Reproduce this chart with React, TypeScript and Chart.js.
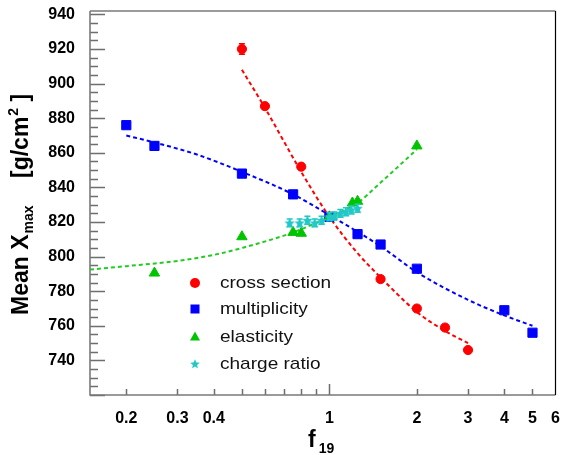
import React, { useEffect, useRef } from 'react';
import { Chart, registerables } from 'chart.js';

Chart.register(...registerables);

const FONT = "'Liberation Sans', Arial, Helvetica, sans-serif";

// ---- axis setup ----
const X_MIN = 0.15;
const X_MAX = 6;
const Y_MIN = 720;
const Y_MAX = 942;
const X_TICKS = [0.2, 0.3, 0.4, 0.5, 0.6, 0.7, 0.8, 0.9, 1, 2, 3, 4, 5, 6];
const X_TICK_LABELS = ['0.2', '0.3', '0.4', '', '', '', '', '', '1', '2', '3', '4', '5', '6'];
const Y_TICKS = [740, 760, 780, 800, 820, 840, 860, 880, 900, 920, 940];
const Y_MINOR_STEP = 5;

// ---- data: cross section ----
const CS_X = [0.5, 0.6, 0.8, 1.0, 1.5, 2.0, 2.5, 3.0];
const CS_Y = [920, 887, 852, 823, 787, 770, 759, 746];
const CS_ERR = [3, 0, 0, 0, 0, 0, 0, 0];
const CS_FIT_X = [0.5, 0.6, 0.8, 1.0, 1.25, 1.5, 2.0, 2.5, 3.0];
const CS_FIT_Y = [908, 886, 849, 823, 802, 788, 768, 757, 750];

// ---- data: multiplicity ----
const MULT_X = [0.2, 0.25, 0.5, 0.75, 1.0, 1.25, 1.5, 2.0, 4.0, 5.0];
const MULT_Y = [876, 864, 848, 836, 823, 813, 807, 793, 769, 756];
const MULT_FIT_X = [0.2, 0.25, 0.35, 0.5, 0.75, 1.0, 1.5, 2.0, 3.0, 4.0, 5.0];
const MULT_FIT_Y = [870, 866, 859, 849, 836, 824, 806, 791, 775, 766, 760];

// ---- data: elasticity ----
const ELAS_X = [0.25, 0.5, 0.75, 0.8, 1.0, 1.2, 1.25, 2.0];
const ELAS_Y = [790.5, 811.5, 814, 813.5, 823, 831, 832, 864];
const ELAS_FIT_X = [0.15, 0.2, 0.3, 0.4, 0.5, 0.75, 1.0, 1.25, 1.45, 2.0];
const ELAS_FIT_Y = [792.5, 794.5, 797.5, 801, 805, 814, 823, 831, 840.5, 862];

// ---- data: charge ratio ----
const CHG_X = [0.73, 0.79, 0.84, 0.89, 0.94, 1.0, 1.04, 1.09, 1.14, 1.19, 1.25];
const CHG_Y = [819.5, 819.5, 821, 819.5, 821, 823, 823.5, 825, 826, 827, 828];
const CHG_ERR = [2.3, 2.3, 2.3, 2.3, 2.3, 2.3, 2.3, 2.3, 2.3, 2.3, 2.3];

const LEGEND_LABELS = ['cross section', 'multiplicity', 'elasticity', 'charge ratio'];

const RED = '#ff0000';
const BLUE = '#0000ff';
const GREEN = '#00c400';
const GREEN_LINE = '#22cc22';
const CYAN = '#22c8c8';

const pts = (xs: number[], ys: number[]) => xs.map((x, i) => ({ x, y: ys[i] }));

function makeStar(color: string, size: number) {
  const c = document.createElement('canvas');
  c.width = size;
  c.height = size;
  const g = c.getContext('2d')!;
  const cx = size / 2, cy = size / 2 + 0.5, R = size / 2, r = R * 0.45;
  g.beginPath();
  for (let i = 0; i < 10; i++) {
    const a = -Math.PI / 2 + (i * Math.PI) / 5;
    const rr = i % 2 === 0 ? R : r;
    g.lineTo(cx + rr * Math.cos(a), cy + rr * Math.sin(a));
  }
  g.closePath();
  g.fillStyle = color;
  g.fill();
  return c;
}

const decorPlugin = {
  id: 'decor',
  afterDatasetsDraw(chart: any) {
    const ctx = chart.ctx;
    const ys = chart.scales.y;
    chart.data.datasets.forEach((ds: any, di: number) => {
      if (!ds.errY) return;
      const meta = chart.getDatasetMeta(di);
      ctx.save();
      ctx.strokeStyle = ds.errColor;
      ctx.lineWidth = 1.5;
      meta.data.forEach((el: any, i: number) => {
        const e = ds.errY[i];
        if (!e) return;
        const v = ds.data[i].y;
        const t = ys.getPixelForValue(v + e);
        const b = ys.getPixelForValue(v - e);
        ctx.beginPath();
        ctx.moveTo(el.x, t);
        ctx.lineTo(el.x, b);
        ctx.moveTo(el.x - 3, t);
        ctx.lineTo(el.x + 3, t);
        ctx.moveTo(el.x - 3, b);
        ctx.lineTo(el.x + 3, b);
        ctx.stroke();
      });
      ctx.restore();
    });
  },
  afterDraw(chart: any) {
    const ctx = chart.ctx;
    const { left, right, top, bottom } = chart.chartArea;
    const xs = chart.scales.x;
    const ys = chart.scales.y;
    ctx.save();
    // ticks
    ctx.strokeStyle = '#6e6e6e';
    ctx.lineWidth = 1.5;
    ctx.beginPath();
    for (let v = Y_MIN; v <= Y_MAX; v += Y_MINOR_STEP) {
      const y = Math.round(ys.getPixelForValue(v)) + 0.5;
      const len = v % 20 === 0 ? 15 : 8;
      ctx.moveTo(left, y);
      ctx.lineTo(left + len, y);
    }
    X_TICKS.forEach((v) => {
      if (v >= X_MAX) return;
      const x = Math.round(xs.getPixelForValue(v)) + 0.5;
      const len = v === 1 ? 11 : 6;
      ctx.moveTo(x, bottom);
      ctx.lineTo(x, bottom - len);
    });
    ctx.stroke();
    // frame
    ctx.lineWidth = 1.6;
    ctx.strokeStyle = '#7a7a7a';
    ctx.beginPath();
    ctx.moveTo(left, top);
    ctx.lineTo(right, top);
    ctx.moveTo(left, top);
    ctx.lineTo(left, bottom);
    ctx.lineTo(right, bottom);
    ctx.stroke();
    ctx.strokeStyle = '#000';
    ctx.lineWidth = 1.2;
    ctx.beginPath();
    ctx.moveTo(right, top);
    ctx.lineTo(right, bottom);
    ctx.stroke();

    // legend
    const lx = 195;
    const rows = [283, 309, 337, 364];
    const colors = [RED, BLUE, GREEN, CYAN];
    rows.forEach((ry, i) => {
      ctx.fillStyle = colors[i];
      ctx.beginPath();
      if (i === 0) {
        ctx.arc(lx, ry, 5, 0, Math.PI * 2);
        ctx.fill();
      } else if (i === 1) {
        ctx.fillRect(lx - 4.5, ry - 4.5, 9, 9);
      } else if (i === 2) {
        ctx.moveTo(lx, ry - 5.5);
        ctx.lineTo(lx + 5, ry + 3.5);
        ctx.lineTo(lx - 5, ry + 3.5);
        ctx.closePath();
        ctx.fill();
      } else {
        ctx.drawImage(STAR, lx - 5, ry - 5, 10, 10);
      }
      ctx.fillStyle = '#111';
      ctx.font = `17px ${FONT}`;
      ctx.textBaseline = 'middle';
      ctx.textAlign = 'left';
      ctx.save();
      ctx.translate(220, ry);
      ctx.scale(1.12, 1);
      ctx.fillText(LEGEND_LABELS[i], 0, 0);
      ctx.restore();
    });

    // x title
    ctx.fillStyle = '#000';
    ctx.textBaseline = 'alphabetic';
    ctx.textAlign = 'left';
    ctx.font = `bold 23px ${FONT}`;
    ctx.fillText('f', 308, 447);
    const fw = ctx.measureText('f').width;
    ctx.font = `bold 14px ${FONT}`;
    ctx.fillText('19', 308 + fw + 3, 453);

    // y title
    ctx.save();
    ctx.translate(28, 315);
    ctx.rotate(-Math.PI / 2);
    ctx.font = `bold 23px ${FONT}`;
    ctx.fillText('Mean X', 0, 0);
    const w1 = ctx.measureText('Mean X').width;
    ctx.font = `bold 14px ${FONT}`;
    ctx.fillText('max', w1 + 1, 5);
    ctx.font = `bold 23px ${FONT}`;
    const bx = 315 - 178;
    ctx.fillText('[g/cm', bx, 0);
    const w2 = ctx.measureText('[g/cm').width;
    ctx.font = `bold 14px ${FONT}`;
    ctx.fillText('2', bx + w2 + 1, -10);
    const w3 = ctx.measureText('2').width;
    ctx.font = `bold 23px ${FONT}`;
    ctx.fillText(' ]', bx + w2 + w3 + 1, 0);
    ctx.restore();

    ctx.restore();
  },
};

const STAR = makeStar(CYAN, 20);

export default function App() {
  const ref = useRef<HTMLCanvasElement>(null);
  useEffect(() => {
    const star = makeStar(CYAN, 11);
    const chart = new Chart(ref.current!, {
      type: 'scatter',
      data: {
        datasets: [
          {
            label: 'charge ratio',
            data: pts(CHG_X, CHG_Y),
            pointStyle: star as any,
            pointRadius: 5,
            backgroundColor: CYAN,
            borderColor: CYAN,
            errY: CHG_ERR,
            errColor: CYAN,
            order: 0,
          } as any,
          {
            label: 'elasticity',
            data: pts(ELAS_X, ELAS_Y),
            pointStyle: 'triangle',
            pointRadius: 6,
            backgroundColor: GREEN,
            borderColor: GREEN,
            order: 0,
          },
          {
            label: 'multiplicity',
            data: pts(MULT_X, MULT_Y),
            pointStyle: 'rect',
            pointRadius: 6.5,
            backgroundColor: BLUE,
            borderColor: BLUE,
            order: 0,
          },
          {
            label: 'cross section',
            data: pts(CS_X, CS_Y),
            pointStyle: 'circle',
            pointRadius: 4.6,
            backgroundColor: RED,
            borderColor: RED,
            errY: CS_ERR,
            errColor: RED,
            order: 0,
          } as any,
          {
            label: 'cs fit',
            data: pts(CS_FIT_X, CS_FIT_Y),
            showLine: true,
            pointRadius: 0,
            borderColor: RED,
            borderWidth: 2,
            borderDash: [4, 3],
            cubicInterpolationMode: 'monotone',
            order: 1,
          },
          {
            label: 'mult fit',
            data: pts(MULT_FIT_X, MULT_FIT_Y),
            showLine: true,
            pointRadius: 0,
            borderColor: BLUE,
            borderWidth: 2,
            borderDash: [4, 3],
            cubicInterpolationMode: 'monotone',
            order: 1,
          },
          {
            label: 'elas fit',
            data: pts(ELAS_FIT_X, ELAS_FIT_Y),
            showLine: true,
            pointRadius: 0,
            borderColor: GREEN_LINE,
            borderWidth: 2,
            borderDash: [4, 3],
            cubicInterpolationMode: 'monotone',
            order: 1,
          },
        ],
      },
      options: {
        responsive: false,
        animation: false,
        events: [],
        layout: { padding: { top: 11, right: 3, left: 0, bottom: 0 } },
        plugins: { legend: { display: false }, tooltip: { enabled: false } },
        scales: {
          x: {
            type: 'logarithmic',
            min: X_MIN,
            max: X_MAX,
            grid: { display: false },
            border: { display: false },
            afterBuildTicks: (s: any) => {
              s.ticks = X_TICKS.map((v) => ({ value: v }));
            },
            afterFit: (s: any) => {
              s.height = 60;
              s.paddingLeft = 0;
              s.paddingRight = 0;
            },
            ticks: {
              autoSkip: false,
              maxRotation: 0,
              minRotation: 0,
              padding: 6,
              color: '#000',
              font: { family: FONT, size: 16, weight: 'bold' },
              callback: (_v: any, i: number) => X_TICK_LABELS[i],
            },
          },
          y: {
            type: 'linear',
            min: Y_MIN,
            max: Y_MAX,
            grid: { display: false },
            border: { display: false },
            afterBuildTicks: (s: any) => {
              s.ticks = Y_TICKS.map((v) => ({ value: v }));
            },
            afterFit: (s: any) => {
              s.width = 90;
              s.paddingTop = 0;
              s.paddingBottom = 0;
            },
            ticks: {
              padding: 7,
              color: '#000',
              font: { family: FONT, size: 16, weight: 'bold' },
              callback: (v: any) => String(v),
            },
          },
        },
      } as any,
      plugins: [decorPlugin],
    });
    return () => chart.destroy();
  }, []);
  return (
    <div style={{ position: 'fixed', left: 0, top: 0, width: 563, height: 455, background: '#fff' }}>
      <canvas ref={ref} width={563} height={455} style={{ display: 'block' }} />
    </div>
  );
}
